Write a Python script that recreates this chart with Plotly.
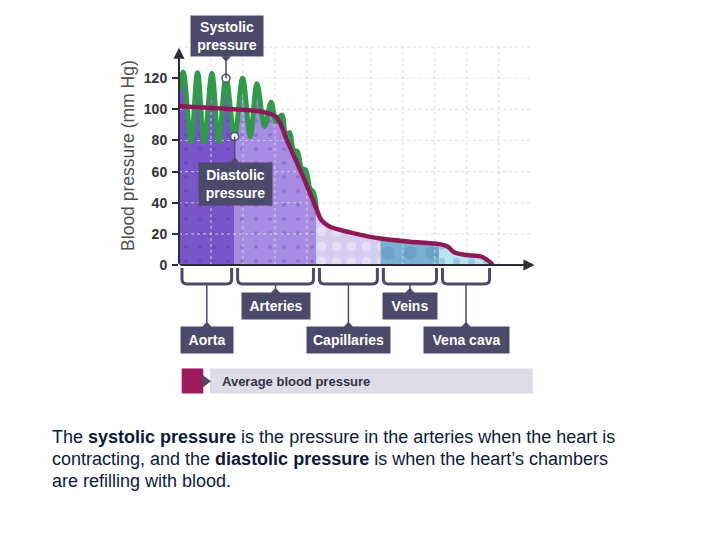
import plotly.graph_objects as go

# ---------------- data ----------------
y_ticks = [0, 20, 40, 60, 80, 100, 120]
grid_y = [20, 40, 60, 80, 100, 120, 140]
grid_x = [1, 2, 3, 4, 5, 6, 7, 8, 9, 10]

# green pulsating (systolic / diastolic) pressure: peaks and troughs
green_x = [0.0, 0.13, 0.375, 0.58, 0.79, 1.03, 1.24, 1.47, 1.74, 1.99, 2.23, 2.44,
           2.68, 2.88, 3.04, 3.22, 3.34, 3.46, 3.58, 3.70, 3.84, 3.96, 4.10, 4.20, 4.30]
green_y = [112, 124, 79, 123.5, 79, 123, 79, 120, 82.6, 120, 82.6, 116.5,
           89, 104.5, 92, 96.3, 84, 85, 74, 73, 62, 61, 49, 47, 36]

# average blood pressure
avg_x = [0.0, 0.9, 1.78, 2.6, 3.05, 3.4, 3.9, 4.3, 4.45, 4.65, 4.95, 5.34, 6.3,
         7.22, 8.15, 8.41, 8.62, 9.0, 9.47, 9.72, 9.81]
avg_y = [102, 101, 100, 98.5, 95, 79, 56, 36, 29, 25.5, 23, 21, 17,
         15, 13.4, 11.7, 8, 6.4, 5.3, 2, 0]

regions = ["Aorta", "Arteries", "Capillaries", "Veins", "Vena cava"]
region_bounds = [0, 1.74, 4.3, 6.3, 8.15, 9.81]

# ---------------- styles ----------------
region_colors = ["#7a55c9", "#a88be2", "#d6ccf1", "#79afd1", "#b8e3f2"]
dot_colors = ["#5b3aa6", "#7458bf", "#f4f1fc", "#5d95bd", "#78b4d2"]
dot_sizes = [14, 14, 15, 22, 15]
dot_solid = [0.06, 0.06, 0.32, 0.3, 0.18]
label_w = [52, 68, 83, 54, 85]
label_low = [True, False, True, False, True]
DARK = "#4b4a6b"
GREEN = "#2f9b4a"
MAGENTA = "#8e1a55"
FONT = "Liberation Sans, Arial"

X_MAX = 11.2
PXU = 32.0
L, B, T = 179.0, 275.0, 44.3
Y_MAX = 142
PLOT_H = 540 - B - T
PLOT_W = X_MAX * PXU


def px(x):
    return (x - L) / PLOT_W


def py(y):
    return (540 - B - y) / PLOT_H


def u2px(u):
    return L + u * PXU


def v2py(v):
    return (540 - B) - v * PLOT_H / Y_MAX


def path(points, close=True):
    s = "M " + " L ".join(f"{px(a):.5f},{py(b):.5f}" for a, b in points)
    return s + (" Z" if close else "")


fig = go.Figure()

# region fills
for i, name in enumerate(regions):
    b0, b1 = region_bounds[i], region_bounds[i + 1]
    if b1 <= 4.3:
        xs, ys = green_x, green_y
    else:
        xs, ys = avg_x, avg_y
    sx = [x for x in xs if b0 - 1e-9 <= x <= b1 + 1e-9]
    sy = [y for x, y in zip(xs, ys) if b0 - 1e-9 <= x <= b1 + 1e-9]
    fig.add_trace(go.Scatter(
        x=sx, y=sy, mode="lines", line=dict(width=0, shape="spline", smoothing=1),
        fill="tozeroy", fillcolor=region_colors[i],
        fillpattern=dict(shape=".", bgcolor=region_colors[i], fgcolor=dot_colors[i],
                         size=dot_sizes[i], solidity=dot_solid[i]),
        hoverinfo="skip", showlegend=False, name=name))

# grid lines (dashed, drawn over the fills, under the curves)
gx, gy = [], []
for v in grid_y:
    gx += [0, 11, None]
    gy += [v, v, None]
for u in grid_x:
    gx += [u, u, None]
    gy += [0, 140, None]
fig.add_trace(go.Scatter(x=gx, y=gy, mode="lines",
                         line=dict(color="rgba(215,215,228,0.75)", width=1.2, dash="3px,3px"),
                         hoverinfo="skip", showlegend=False))

# green systolic/diastolic curve
fig.add_trace(go.Scatter(x=green_x, y=green_y, mode="lines",
                         line=dict(color=GREEN, width=5, shape="spline", smoothing=1),
                         hoverinfo="skip", showlegend=False))
# average pressure
fig.add_trace(go.Scatter(x=avg_x, y=avg_y, mode="lines",
                         line=dict(color=MAGENTA, width=4.5, shape="spline", smoothing=0.8),
                         hoverinfo="skip", showlegend=False))

shapes = []
annotations = []

# callout lines for systolic / diastolic
sys_i, dia_i = 7, 8
sx_px, sy_px = u2px(green_x[sys_i]), v2py(green_y[sys_i])
dx_px, dy_px = u2px(green_x[dia_i]), v2py(green_y[dia_i])
shapes.append(dict(type="line", xref="paper", yref="paper", x0=px(sx_px), x1=px(sx_px),
                   y0=py(56.7), y1=py(sy_px), line=dict(color=DARK, width=1.5)))
shapes.append(dict(type="line", xref="paper", yref="paper", x0=px(dx_px), x1=px(dx_px),
                   y0=py(162.7), y1=py(dy_px), line=dict(color=DARK, width=1.5)))
shapes.append(dict(type="path", xref="paper", yref="paper",
                   path=path([(sx_px - 5, 56.5), (sx_px + 5, 56.5), (sx_px, 62)]),
                   fillcolor=DARK, line=dict(width=0)))
shapes.append(dict(type="path", xref="paper", yref="paper",
                   path=path([(dx_px - 5, 163), (dx_px + 5, 163), (dx_px, 157.5)]),
                   fillcolor=DARK, line=dict(width=0)))

fig.add_trace(go.Scatter(x=[green_x[sys_i], green_x[dia_i]], y=[green_y[sys_i], green_y[dia_i]],
                         mode="markers", marker=dict(color="white", size=8,
                                                     line=dict(color=DARK, width=1.5)),
                         hoverinfo="skip", showlegend=False, cliponaxis=False))

annotations.append(dict(xref="paper", yref="paper", x=px(227.5), y=py(36.7),
                        text="<b>Systolic<br>pressure</b>", showarrow=False,
                        width=72, height=40, bgcolor=DARK, borderpad=0,
                        font=dict(family=FONT, size=14, color="white"),
                        xanchor="center", yanchor="middle"))
annotations.append(dict(xref="paper", yref="paper", x=px(236), y=py(183.8),
                        text="<b>Diastolic<br>pressure</b>", showarrow=False,
                        width=73, height=42, bgcolor=DARK, borderpad=0,
                        font=dict(family=FONT, size=14, color="white"),
                        xanchor="center", yanchor="middle"))

# brackets and region labels
for i, name in enumerate(regions):
    x0 = u2px(region_bounds[i]) + 3
    x1 = u2px(region_bounds[i + 1]) - 3
    xc = (x0 + x1) / 2
    shapes.append(dict(
        type="path", xref="paper", yref="paper",
        path=(f"M {px(x0):.5f},{py(268):.5f} L {px(x0):.5f},{py(279):.5f} "
              f"Q {px(x0):.5f},{py(284):.5f} {px(x0 + 5):.5f},{py(284):.5f} "
              f"L {px(x1 - 5):.5f},{py(284):.5f} "
              f"Q {px(x1):.5f},{py(284):.5f} {px(x1):.5f},{py(279):.5f} "
              f"L {px(x1):.5f},{py(268):.5f}"),
        line=dict(color=DARK, width=3)))
    top = 326.7 if label_low[i] else 292.7
    yc = top + 13
    shapes.append(dict(type="line", xref="paper", yref="paper", x0=px(xc), x1=px(xc),
                       y0=py(284), y1=py(top), line=dict(color=DARK, width=1.5)))
    shapes.append(dict(type="path", xref="paper", yref="paper",
                       path=path([(xc - 5, top + 0.5), (xc + 5, top + 0.5), (xc, top - 5)]),
                       fillcolor=DARK, line=dict(width=0)))
    annotations.append(dict(xref="paper", yref="paper", x=px(xc), y=py(yc),
                            text=f"<b>{name}</b>", showarrow=False,
                            width=label_w[i], height=26, bgcolor=DARK, borderpad=0,
                            font=dict(family=FONT, size=14, color="white"),
                            xanchor="center", yanchor="middle"))

# legend
shapes.append(dict(type="rect", xref="paper", yref="paper", x0=px(210), x1=px(533.3),
                   y0=py(393.3), y1=py(368.3), fillcolor="#dedce9", line=dict(width=0)))
shapes.append(dict(type="rect", xref="paper", yref="paper", x0=px(181.7), x1=px(203.3),
                   y0=py(393.3), y1=py(368.3), fillcolor="#9c1a5c", line=dict(width=0)))
shapes.append(dict(type="path", xref="paper", yref="paper",
                   path=path([(203, 375), (211, 381), (203, 387)]),
                   fillcolor=DARK, line=dict(width=0)))
annotations.append(dict(xref="paper", yref="paper", x=px(220), y=py(381),
                        text="<b>Average blood pressure</b>", showarrow=False,
                        xanchor="left", yanchor="middle",
                        font=dict(family=FONT, size=13, color="#333344")))

# axis arrows
annotations.append(dict(xref="x", yref="y", axref="x", ayref="y", x=0, y=139.6, ax=0, ay=0,
                        showarrow=True, arrowhead=2, arrowsize=1.1, arrowwidth=2,
                        arrowcolor="#2b2b3a", text=""))
annotations.append(dict(xref="x", yref="y", axref="x", ayref="y", x=11.12, y=0, ax=0, ay=0,
                        showarrow=True, arrowhead=2, arrowsize=1.1, arrowwidth=2,
                        arrowcolor="#2b2b3a", text=""))

# y-axis title
annotations.append(dict(xref="paper", yref="paper", x=px(128), y=py(156),
                        text="Blood pressure (mm Hg)", textangle=-90, showarrow=False,
                        xanchor="center", yanchor="middle",
                        font=dict(family=FONT, size=17.5, color="#4f4f4f")))

# caption
caption = [
    "The <b>systolic pressure</b> is the pressure in the arteries when the heart is",
    "contracting, and the <b>diastolic pressure</b> is when the heart\u2019s chambers",
    "are refilling with blood.",
]
for k, line in enumerate(caption):
    annotations.append(dict(xref="paper", yref="paper", x=px(50), y=py(437 + 22 * k),
                            text=line, showarrow=False, xanchor="left", yanchor="middle",
                            font=dict(family=FONT, size=18, color="#0d1a3c")))

fig.update_layout(
    width=720, height=540,
    margin=dict(l=L, r=720 - L - PLOT_W, t=T, b=B, pad=0),
    paper_bgcolor="white", plot_bgcolor="white",
    showlegend=False,
    shapes=shapes, annotations=annotations,
    xaxis=dict(range=[0, X_MAX], showgrid=False, zeroline=False, showline=False,
               showticklabels=False, ticks=""),
    yaxis=dict(range=[0, Y_MAX], tickvals=y_ticks, showgrid=False, zeroline=False,
               showline=False, ticks="outside", ticklen=6, tickwidth=2, tickcolor="#2b2b3a",
               tickfont=dict(family=FONT, size=14, color="#333333", weight="bold"),
               ticklabelstandoff=2),
)

fig.write_html("out.html")
